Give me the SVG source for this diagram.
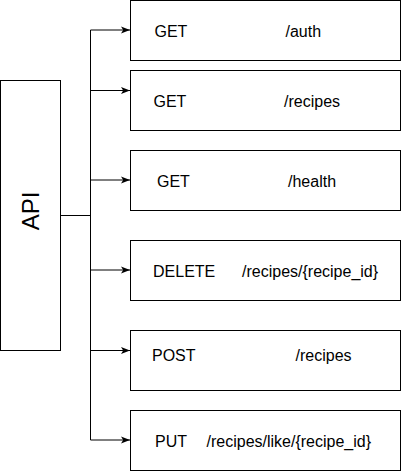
<svg xmlns="http://www.w3.org/2000/svg" width="401" height="471" viewBox="0 0 401 471">
  <style>
    .box { fill: #ffffff; stroke: #000000; stroke-width: 1; }
    .lbl { font-family: "Liberation Sans", Arial, Helvetica, sans-serif; font-size: 16px; fill: #000000; }
    .api { font-family: "Liberation Sans", Arial, Helvetica, sans-serif; font-size: 24px; fill: #000000; }
    .edge { fill: none; stroke: #000000; stroke-width: 1; }
  </style>
  <defs>
    <marker id="arrow" markerUnits="userSpaceOnUse" markerWidth="9" markerHeight="8" refX="9" refY="3.5" orient="auto" viewBox="0 0 9 7">
      <path d="M0,0 L9,3.5 L0,7 L2.2,3.5 Z" fill="#000000"/>
    </marker>
  </defs>
  <rect width="401" height="471" fill="#ffffff"/>

  <g id="connectors">
    <path class="edge" d="M60.5,215.5 H90.5 V30 H130" marker-end="url(#arrow)"/>
    <path class="edge" d="M60.5,215.5 H90.5 V90.5 H130" marker-end="url(#arrow)"/>
    <path class="edge" d="M60.5,215.5 H90.5 V180 H130" marker-end="url(#arrow)"/>
    <path class="edge" d="M60.5,215.5 H90.5 V270 H130" marker-end="url(#arrow)"/>
    <path class="edge" d="M60.5,215.5 H90.5 V350.5 H130" marker-end="url(#arrow)"/>
    <path class="edge" d="M60.5,215.5 H90.5 V440 H130" marker-end="url(#arrow)"/>
  </g>

  <g id="api">
    <rect class="box" x="0.5" y="80.5" width="60" height="270"/>
    <text class="api" transform="translate(39,211) rotate(-90)" text-anchor="middle">API</text>
  </g>

  <g id="get-auth">
    <rect class="box" x="130.5" y="0.5" width="270" height="60"/>
    <text class="lbl" x="154.5" y="36.5">GET</text>
    <text class="lbl" x="285.5" y="36.5">/auth</text>
  </g>

  <g id="get-recipes">
    <rect class="box" x="130.5" y="70.5" width="270" height="60"/>
    <text class="lbl" x="153.5" y="106.5">GET</text>
    <text class="lbl" x="284" y="106.5">/recipes</text>
  </g>

  <g id="get-health">
    <rect class="box" x="130.5" y="150.5" width="270" height="60"/>
    <text class="lbl" x="157" y="186.5">GET</text>
    <text class="lbl" x="288" y="186.5">/health</text>
  </g>

  <g id="delete-recipe">
    <rect class="box" x="130.5" y="240.5" width="270" height="60"/>
    <text class="lbl" x="153" y="276.5">DELETE</text>
    <text class="lbl" x="242" y="276.5">/recipes/{recipe_id}</text>
  </g>

  <g id="post-recipes">
    <rect class="box" x="130.5" y="330.5" width="270" height="60"/>
    <text class="lbl" x="152" y="360.5">POST</text>
    <text class="lbl" x="295.5" y="360.5">/recipes</text>
  </g>

  <g id="put-like">
    <rect class="box" x="130.5" y="410.5" width="270" height="60"/>
    <text class="lbl" x="155" y="446.5">PUT</text>
    <text class="lbl" x="206.5" y="446.5">/recipes/like/{recipe_id}</text>
  </g>
</svg>
